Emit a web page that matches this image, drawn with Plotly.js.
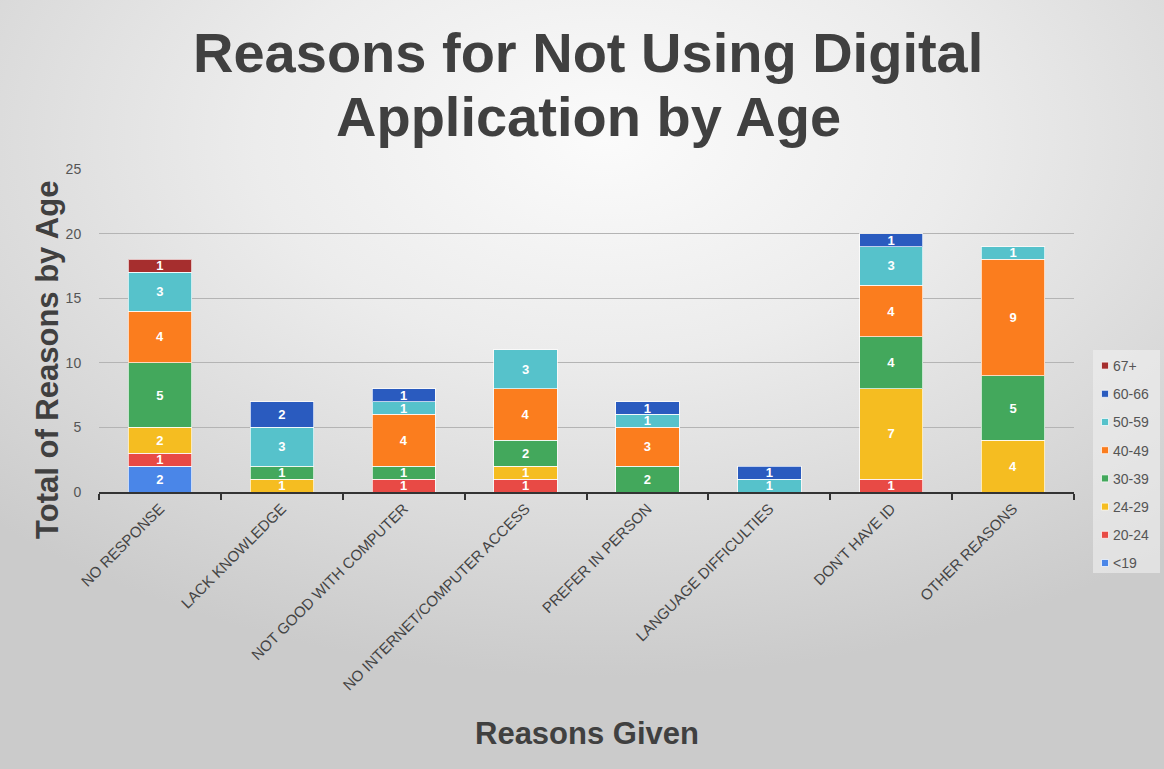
<!DOCTYPE html>
<html>
<head>
<meta charset="utf-8">
<script src="https://cdn.plot.ly/plotly-3.0.1.min.js"></script>
<style>
html,body{margin:0;padding:0;}
body{width:1164px;height:769px;overflow:hidden;
background:radial-gradient(ellipse 75% 70% at 52% 18%, #fbfbfb 0%, #ececec 40%, #d9d9d9 75%, #cbcbcb 100%);}
#chart{width:1164px;height:769px;}
</style>
</head>
<body>
<div id="chart"></div>
<script>
const categories = ["NO RESPONSE","LACK KNOWLEDGE","NOT GOOD WITH COMPUTER","NO INTERNET/COMPUTER ACCESS","PREFER IN PERSON","LANGUAGE DIFFICULTIES","DON'T HAVE ID","OTHER REASONS"];
const ageGroups = ["<19","20-24","24-29","30-39","40-49","50-59","60-66","67+"];
const under19 = [2,null,null,null,null,null,null,null];
const age20_24 = [1,null,1,1,null,null,1,null];
const age24_29 = [2,1,null,1,null,null,7,4];
const age30_39 = [5,1,1,2,2,null,4,5];
const age40_49 = [4,null,4,4,3,null,4,9];
const age50_59 = [3,3,1,3,1,1,3,1];
const age60_66 = [null,2,1,null,1,1,1,null];
const age67plus = [1,null,null,null,null,null,null,null];
const seriesValues = [under19,age20_24,age24_29,age30_39,age40_49,age50_59,age60_66,age67plus];
const colors = ["#4a86e8","#e84a45","#f5bd21","#43a85c","#fb7d1e","#56c2cb","#2a5bbf","#a62e2e"];
const titleLines = ["Reasons for Not Using Digital","Application by Age"];

const FONT = "Liberation Sans, Arial, sans-serif";
const traces = ageGroups.map((name,i)=>({
  type:"bar", name:name, x:categories, y:seriesValues[i],
  legendgroup:name, legendrank:100-i,
  marker:{color:colors[i], line:{color:"rgba(255,255,255,0.7)", width:1}},
  texttemplate:"%{y}", textposition:"inside", insidetextanchor:"middle", textangle:0,
  textfont:{family:FONT, size:13, color:"#ffffff", weight:"bold"},
  hoverinfo:"x+y+name"
}));

const layout = {
  width:1164, height:769,
  paper_bgcolor:"rgba(0,0,0,0)", plot_bgcolor:"rgba(0,0,0,0)",
  margin:{l:99, r:90, t:169, b:277, autoexpand:false},
  barmode:"stack", bargap:0.48,
  uniformtext:{mode:"show", minsize:13},
  font:{family:FONT, color:"#444"},
  xaxis:{type:"category", showline:true, linecolor:"#333", linewidth:2,
    ticks:"outside", tickson:"boundaries", ticklen:6, tickcolor:"#333", tickwidth:2,
    tickangle:-45, tickfont:{size:15, color:"#444"}, showgrid:false},
  yaxis:{range:[0,25], dtick:5, showgrid:true, gridcolor:"#b4b4b4", gridwidth:1,
    zeroline:false, ticks:"outside", ticklen:14, tickcolor:"rgba(0,0,0,0)",
    tickfont:{size:14, color:"#555"}},
  legend:{x:(1085-99)/975, xanchor:"left", y:(492-350)/323, yanchor:"top",
    traceorder:"grouped", tracegroupgap:7,
    bgcolor:"rgba(0,0,0,0)", font:{size:14, color:"#555"}},
  shapes:[
    {type:"rect", xref:"paper", yref:"paper", layer:"below",
     x0:(1093-99)/975, x1:(1160-99)/975, y0:(492-573)/323, y1:(492-350)/323,
     fillcolor:"rgba(240,240,240,0.6)", line:{width:0}}
  ],
  annotations:[
    {text:titleLines[0], xref:"paper", yref:"paper", x:0.502, y:1.362,
     xanchor:"center", yanchor:"middle", showarrow:false,
     font:{size:56, color:"#404040", weight:"bold"}},
    {text:titleLines[1], xref:"paper", yref:"paper", x:0.502, y:1.162,
     xanchor:"center", yanchor:"middle", showarrow:false,
     font:{size:56, color:"#404040", weight:"bold"}},
    {text:"Total of Reasons by Age", xref:"paper", yref:"paper",
     x:-0.053, y:0.41, xanchor:"center", yanchor:"middle", textangle:-90, showarrow:false,
     font:{size:31, color:"#404040", weight:"bold"}},
    {text:"Reasons Given", xref:"paper", yref:"paper",
     x:0.501, y:-0.747, xanchor:"center", yanchor:"middle", showarrow:false,
     font:{size:31, color:"#404040", weight:"bold"}}
  ]
};

Plotly.newPlot("chart", traces, layout, {displayModeBar:false, staticPlot:true}).then(()=>{
  // smaller legend swatches with labels closer, as in the reference
  document.querySelectorAll('#chart .legend .legendpoints path').forEach(p=>{
    p.setAttribute('d','M3.5,3.5H-3.5V-3.5H3.5Z');
  });
  document.querySelectorAll('#chart .legend text.legendtext').forEach(t=>{
    const x = parseFloat(t.getAttribute('x')||'40');
    t.setAttribute('x', x-12);
  });
});
</script>
</body>
</html>
